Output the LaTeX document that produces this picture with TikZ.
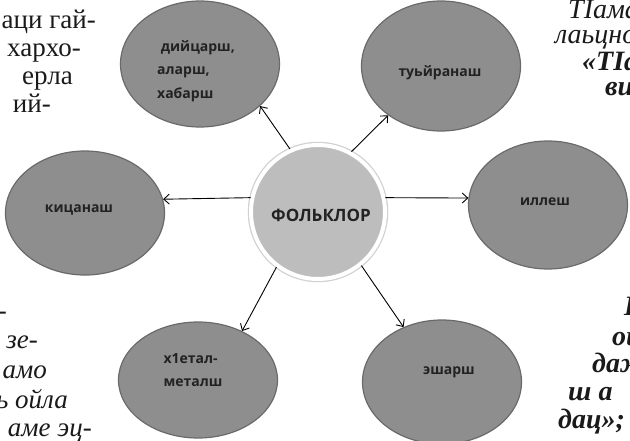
\documentclass[tikz,border=0pt]{standalone}
\usepackage{fontspec}
\setmainfont{Liberation Serif}
\newfontfamily\labfont{Open Sans}
\usetikzlibrary{shapes.geometric,arrows.meta}
\definecolor{ellfill}{HTML}{8E8E8E}
\definecolor{elldraw}{HTML}{6A6A6A}
\definecolor{corefill}{HTML}{BDBDBD}
\definecolor{labtext}{HTML}{222222}
\definecolor{pagetext}{HTML}{1A1A1A}
\begin{document}
\begin{tikzpicture}[x=1pt,y=-1pt,
  bub/.style={ellipse, fill=ellfill, draw=elldraw, line width=1.2pt,
    minimum width=159pt, inner sep=0pt},
  core/.style={circle, fill=corefill, draw=white, line width=4pt,
    minimum size=134pt, inner sep=0pt, preaction={draw=black!18, line width=6.5pt}},
  lab/.style={font=\labfont\bfseries\fontsize{14}{23.5}\selectfont, text=labtext,
    inner sep=0pt, align=left},
  corelab/.style={font=\labfont\bfseries\fontsize{17}{20}\selectfont, text=labtext, inner sep=0pt},
  link/.style={-{Straight Barb[length=5.5pt,width=10pt]}, line width=0.9pt, black},
  lside/.style={font=\fontsize{27}{27}\selectfont, text=pagetext, inner sep=0pt, anchor=base east},
  rside/.style={font=\fontsize{28}{28}\selectfont, text=pagetext, inner sep=0pt, anchor=base west}]
\useasboundingbox (0,0) rectangle (630,440);
\clip (0,0) rectangle (630,440);

% page text fragments
\node[lside] (lt1) at (96,28) {аци гай-};
\node[lside] (lt2) at (81,56) {хархо-};
\node[lside] (lt3) at (73,84) {ерла};
\node[lside] (lt4) at (51,112) {ий-};

\node[lside,font=\itshape\fontsize{27}{27}\selectfont] (lb1) at (7,319) {-};
\node[lside,font=\itshape\fontsize{27}{27}\selectfont] (lb2) at (38,348) {зе-};
\node[lside,font=\itshape\fontsize{27}{27}\selectfont] (lb3) at (47,378) {амо};
\node[lside,font=\itshape\fontsize{27}{27}\selectfont] (lb4) at (68,408) {ь ойла};
\node[lside,font=\itshape\fontsize{27}{27}\selectfont] (lb5) at (92,436) {аме эц-};

\node[rside,font=\itshape\fontsize{28}{28}\selectfont] (rt1) at (568,18) {ТІама};
\node[rside,font=\itshape\fontsize{28}{28}\selectfont] (rt2) at (555,43) {лаьцно};
\node[rside,font=\bfseries\itshape\fontsize{28}{28}\selectfont] (rt3) at (582,70) {«ТІа};
\node[rside,font=\bfseries\itshape\fontsize{28}{28}\selectfont] (rt4) at (605,95) {ви};

\node[rside,font=\bfseries\itshape\fontsize{28}{28}\selectfont] (rb1) at (624,315) {І};
\node[rside,font=\bfseries\itshape\fontsize{28}{28}\selectfont] (rb2) at (612,345) {оц};
\node[rside,font=\bfseries\itshape\fontsize{28}{28}\selectfont] (rb3) at (592,372) {даж};
\node[rside,font=\bfseries\itshape\fontsize{28}{28}\selectfont] (rb4) at (568,400) {ш а};
\node[rside,font=\bfseries\itshape\fontsize{28}{28}\selectfont] (rb5) at (558,428) {дац»;};

% diagram
\node[bub, minimum height=126pt] (tl) at (200,64) {};
\node[bub, minimum height=130pt] (tr) at (441,66) {};
\node[bub, minimum height=124pt] (l) at (85,213) {};
\node[bub, minimum height=128pt] (r) at (548,205) {};
\node[bub, minimum height=116pt] (bl) at (198,380) {};
\node[bub, minimum height=124pt] (br) at (442,382) {};
\node[core] (c) at (318,212) {};

\node[lab, anchor=west] (tlt) at (157,71) {\ дийцарш,\\аларш,\\хабарш};
\node[lab] (trt) at (440,73) {туьйранаш};
\node[lab] (lt) at (79,210) {кицанаш};
\node[lab] (rt) at (545,202) {иллеш};
\node[lab] (blt) at (193,370) {х1етал-\\металш};
\node[lab] (brt) at (449,372) {эшарш};
\node[corelab] (ct) at (321,215) {ФОЛЬКЛОР};

\draw[link] (c.114) -- (tl.-35);
\draw[link] (c.61) -- (tr.223.6);
\draw[link] (c.168) -- (l.10);
\draw[link] (c.12) -- (r.175);
\draw[link] (c.233) -- (bl.48.7);
\draw[link] (c.309) -- (br.125.4);
\end{tikzpicture}
\end{document}
